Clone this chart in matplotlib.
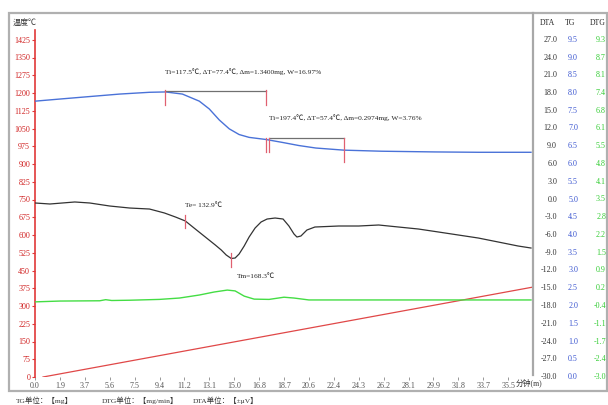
import numpy as np
import matplotlib.pyplot as plt
from matplotlib import transforms
from matplotlib.patches import Rectangle
from matplotlib.lines import Line2D

plt.rcParams['font.family'] = ['Liberation Serif', 'Noto Sans CJK SC']

# time axis (min)
x_max = 37.4
x_tick_labels = ['0.0', '1.9', '3.7', '5.6', '7.5', '9.4', '11.2', '13.1', '15.0', '16.8',
                 '18.7', '20.6', '22.4', '24.3', '26.2', '28.1', '29.9', '31.8', '33.7', '35.5']

# left axis (temperature) and the three right-hand scales
temp_ticks = list(range(0, 1500, 75))
dta_labels = ['-30.0', '-27.0', '-24.0', '-21.0', '-18.0', '-15.0', '-12.0', '-9.0', '-6.0', '-3.0',
              '0.0', '3.0', '6.0', '9.0', '12.0', '15.0', '18.0', '21.0', '24.0', '27.0']
tg_labels = ['0.0', '0.5', '1.0', '1.5', '2.0', '2.5', '3.0', '3.5', '4.0', '4.5',
             '5.0', '5.5', '6.0', '6.5', '7.0', '7.5', '8.0', '8.5', '9.0', '9.5']
dtg_labels = ['-3.0', '-2.4', '-1.7', '-1.1', '-0.4', '0.2', '0.9', '1.5', '2.2', '2.8',
              '3.5', '4.1', '4.8', '5.5', '6.1', '6.8', '7.4', '8.1', '8.7', '9.3']

# temperature program
temp_t = [0.6, 37.4]
temp_v = [0, 380]

# TG (mg)
tg_t = [0.0, 1.87, 4.11, 6.36, 8.6, 9.8, 11.07, 12.34, 13.09, 13.84, 14.59, 15.33, 16.08,
        17.35, 18.55, 19.82, 21.09, 23.2, 26.03, 30.0, 33.3, 37.25]
tg_v = [7.77, 7.83, 7.90, 7.97, 8.02, 8.03, 7.97, 7.77, 7.55, 7.24, 6.99, 6.83, 6.75,
        6.69, 6.61, 6.52, 6.45, 6.39, 6.36, 6.34, 6.33, 6.33]

# DTA (uV)
dta_t = [0.0, 1.12, 2.99, 4.11, 5.61, 7.11, 8.6, 9.72, 10.55, 11.29, 12.04, 12.79, 13.54,
         13.99, 14.36, 14.74, 15.03, 15.33, 15.71, 16.08, 16.53, 16.98, 17.43, 18.03, 18.63,
         19.07, 19.45, 19.67, 19.97, 20.42, 21.02, 22.81, 24.31, 25.81, 27.3, 28.8, 30.29,
         31.79, 33.29, 34.78, 36.28, 37.25]
dta_v = [-0.59, -0.76, -0.42, -0.59, -1.10, -1.44, -1.61, -2.28, -2.96, -3.63, -4.99, -6.34,
         -7.69, -8.54, -9.38, -9.97, -9.89, -9.21, -7.86, -6.34, -4.82, -3.80, -3.30, -3.13,
         -3.30, -4.48, -5.83, -6.34, -6.17, -5.16, -4.65, -4.48, -4.48, -4.31, -4.65, -4.99,
         -5.49, -6.00, -6.51, -7.18, -7.86, -8.20]

# DTG (mg/min)
dtg_t = [0.0, 1.87, 4.86, 5.31, 5.76, 7.11, 9.35, 10.85, 12.34, 13.46, 14.44, 15.03,
         15.71, 16.46, 17.58, 18.7, 19.45, 20.57, 23.56, 37.25]
dtg_v = [-0.26, -0.23, -0.22, -0.18, -0.21, -0.20, -0.17, -0.12, -0.01, 0.10, 0.17, 0.14,
         -0.05, -0.16, -0.17, -0.09, -0.12, -0.19, -0.19, -0.19]

W, H = 608, 405
fig = plt.figure(figsize=(W / 100, H / 100), dpi=100)
fig.patch.set_facecolor('white')

def px(x, y):
    return x / W, 1 - y / H

ax = fig.add_axes([35 / W, 28 / H, (533 - 35) / W, 355 / H])
ax.set_xlim(0, x_max)
ax.set_ylim(0, 1500)
ax_tg = ax.twinx()
ax_tg.set_ylim(0, 10)
ax_dta = ax.twinx()
ax_dta.set_ylim(-30, 30)
ax_dtg = ax.twinx()
dtg_top = -3.0 + 20 * 12.3 / 19
ax_dtg.set_ylim(-3.0, dtg_top)

for a in (ax, ax_tg, ax_dta, ax_dtg):
    for s in a.spines.values():
        s.set_visible(False)
for a in (ax_tg, ax_dta, ax_dtg):
    a.set_yticks([])

red = '#e03838'
ax.spines['left'].set_visible(True)
ax.spines['left'].set_color(red)
ax.spines['left'].set_linewidth(1.2)
ax.spines['left'].set_bounds(0, 1465)
ax.set_yticks(temp_ticks)
ax.set_yticklabels([str(v) for v in temp_ticks])
ax.tick_params(axis='y', colors=red, labelcolor='#d02020', length=2.5, width=0.8,
               labelsize=5.8, pad=1)
ax.set_xticks([i * x_max / 20 for i in range(20)])
ax.set_xticklabels(x_tick_labels)
ax.tick_params(axis='x', colors='#888888', labelcolor='#555555', length=2, width=0.6,
               labelsize=5.8, pad=1.5)

# curves
ax.plot(temp_t, temp_v, color='#e04848', lw=0.9)
ax_tg.plot(tg_t, tg_v, color='#4a72d8', lw=1.0)
ax_dta.plot(dta_t, dta_v, color='#333333', lw=0.9)
ax_dtg.plot(dtg_t, dtg_v, color='#44dd44', lw=1.0)

# TG step brackets
mark = '#e06070'
ax_tg.plot([9.8, 17.35], [8.06, 8.06], color='#707070', lw=0.9)
ax_tg.plot([9.8, 9.8], [8.08, 7.66], color=mark, lw=0.9)
ax_tg.plot([17.35, 17.35], [8.08, 7.66], color=mark, lw=0.9)
ax_tg.plot([17.58, 23.2], [6.73, 6.73], color='#707070', lw=0.9)
ax_tg.plot([17.35, 17.35], [6.73, 6.34], color=mark, lw=0.9)
ax_tg.plot([17.58, 17.58], [6.73, 6.34], color=mark, lw=0.9)
ax_tg.plot([23.2, 23.2], [6.73, 6.06], color=mark, lw=0.9)
ax_tg.text(9.8, 8.59, 'Ti=117.5℃, ΔT=77.4℃, Δm=1.3400mg, W=16.97%', fontsize=5.3,
           color='#222222', va='center', ha='left')
ax_tg.text(17.58, 7.30, 'Ti=197.4℃, ΔT=57.4℃, Δm=0.2974mg, W=3.76%', fontsize=5.3,
           color='#222222', va='center', ha='left')

# DTA peak marks
ax_dta.plot([11.29, 11.29], [-2.62, -4.82], color=mark, lw=0.9)
ax_dta.plot([14.74, 14.74], [-9.04, -11.41], color=mark, lw=0.9)
ax_dta.text(11.29, -0.93, 'Te= 132.9℃', fontsize=5.3, color='#222222', va='center', ha='left')
ax_dta.text(15.18, -12.93, 'Tm=168.3℃', fontsize=5.3, color='#222222', va='center', ha='left')

# right-hand value columns
for a, labels, lo, hi, xr, col in [
        (ax_dta, dta_labels, -30, 30, 557, '#333333'),
        (ax_tg, tg_labels, 0, 10, 578, '#3a55d0'),
        (ax_dtg, dtg_labels, -3.0, dtg_top, 606, '#33cc33')]:
    tr = transforms.blended_transform_factory(fig.transFigure, a.transData)
    for i, lab in enumerate(labels):
        a.text(xr / W, lo + (hi - lo) * i / 20, lab, transform=tr, ha='right', va='center',
               fontsize=5.8, color=col, clip_on=False)

for txt, xr in [('DTA', 555), ('TG', 575), ('DTG', 606)]:
    fig.text(*px(xr, 23), txt, ha='right', va='center', fontsize=5.6, color='#222222')

fig.text(*px(13, 23), '温度℃', ha='left', va='center', fontsize=5.8, color='#333333')
fig.text(*px(516, 383), '分钟(m)', ha='left', va='center', fontsize=5.6, color='#333333')

# frame and panel divider
fig.add_artist(Rectangle(px(9, 391), (607 - 9) / W, (391 - 13) / H,
                         transform=fig.transFigure, fill=False, ec='#b0b0b0', lw=1.6))
fig.add_artist(Line2D([533 / W, 533 / W], [1 - 13 / H, 1 - 375 / H],
                      transform=fig.transFigure, color='#a8a8a8', lw=1.6))

# units
fig.text(*px(16, 400), 'TG单位：【mg】', ha='left', va='center', fontsize=5.4, color='#333333')
fig.text(*px(102, 400), 'DTG单位：【mg/min】', ha='left', va='center', fontsize=5.4, color='#333333')
fig.text(*px(193, 400), 'DTA单位：【±μV】', ha='left', va='center', fontsize=5.4, color='#333333')

fig.savefig('out.png', dpi=100)
